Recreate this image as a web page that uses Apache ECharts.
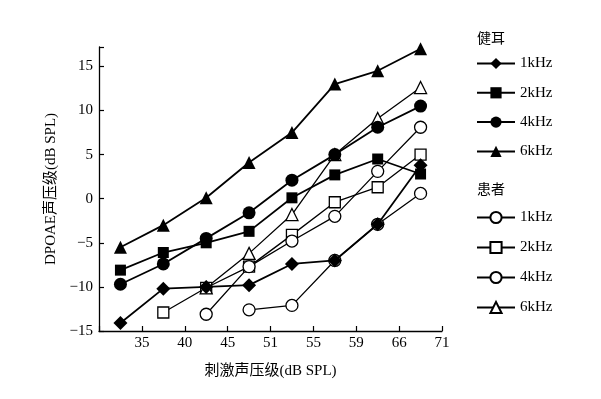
<!DOCTYPE html>
<html>
<head>
<meta charset="utf-8">
<script src="https://cdn.jsdelivr.net/npm/echarts@6/dist/echarts.min.js"></script>
<style>
  html, body { margin: 0; padding: 0; background: #fff; }
  #chart { width: 601px; height: 399px; }
</style>
</head>
<body>
<div id="chart"></div>
<script>
// x axis: evenly spaced slots, labels sit on the slot edges, points in the middle of each slot
var tickLabels = ['', '35', '40', '45', '51', '55', '59', '66', '71']

// 健耳 (healthy ear)
var normal1k = [-14.1, -10.2, -10.0, -9.8, -7.4, -7.0, -2.9, 3.8]
var normal2k = [-8.1, -6.1, -5.0, -3.7, 0.1, 2.7, 4.5, 2.8]
var normal4k = [-9.7, -7.4, -4.5, -1.6, 2.1, 5.0, 8.1, 10.5]
var normal6k = [-5.5, -3.0, 0.1, 4.1, 7.5, 13.0, 14.5, 17.0]

// 患者 (patients)
var patient1k = [null, null, null, -12.6, -12.1, -7.0, -2.9, 0.6]
var patient2k = [null, -12.9, -10.1, -7.7, -4.1, -0.4, 1.3, 5.0]
var patient4k = [null, null, -13.1, -7.7, -4.8, -2.0, 3.1, 8.1]
var patient6k = [null, null, -10.1, -6.2, -1.8, 5.0, 9.1, 12.6]

var serif = '"Liberation Serif", "Times New Roman", "Noto Sans CJK SC", serif'

function toPoints(values) {
  var pts = []
  for (var i = 0; i < values.length; i++) {
    if (values[i] !== null) pts.push([i + 0.5, values[i]])
  }
  return pts
}

function makeSeries(name, values, symbol, size, filled) {
  return {
    name: name,
    type: 'line',
    data: toPoints(values),
    symbol: symbol,
    symbolSize: size,
    showAllSymbol: true,
    z: filled ? 3 : 2,
    lineStyle: { color: '#000', width: filled ? 1.8 : 1.3 },
    itemStyle: {
      color: filled ? '#000' : '#fff',
      borderColor: '#000',
      borderWidth: filled ? 0 : 1.3,
      opacity: 1
    },
    emphasis: { disabled: true },
    animation: false
  }
}

var series = [
  makeSeries('患者1kHz', patient1k, 'circle', 12, false),
  makeSeries('患者2kHz', patient2k, 'rect', 11, false),
  makeSeries('患者4kHz', patient4k, 'circle', 12, false),
  makeSeries('患者6kHz', patient6k, 'triangle', 12, false),
  makeSeries('健耳1kHz', normal1k, 'diamond', 14, true),
  makeSeries('健耳2kHz', normal2k, 'rect', 11, true),
  makeSeries('健耳4kHz', normal4k, 'circle', 13, true),
  makeSeries('健耳6kHz', normal6k, 'triangle', 13, true)
]

var legendBase = {
  orient: 'vertical',
  left: 471,
  itemWidth: 38,
  itemHeight: 14,
  selectedMode: false,
  formatter: function (name) { return name.slice(2) },
  textStyle: { color: '#000', fontSize: 15, fontFamily: serif, lineHeight: 14 }
}

var myChart = echarts.init(document.getElementById('chart'))
var option = {
  backgroundColor: '#fff',
  animation: false,
  grid: { left: 99, right: 159, top: 47, bottom: 68 },
  legend: [
    Object.assign({}, legendBase, { top: 51, itemGap: 14.3, data: ['健耳1kHz', '健耳2kHz', '健耳4kHz', '健耳6kHz'] }),
    Object.assign({}, legendBase, { top: 205, itemGap: 15, data: ['患者1kHz', '患者2kHz', '患者4kHz', '患者6kHz'] })
  ],
  graphic: [
    { type: 'text', left: 477, top: 31, style: { text: '健耳', fontSize: 14, fill: '#000', fontFamily: '"Noto Sans CJK SC"' } },
    { type: 'text', left: 477, top: 182, style: { text: '患者', fontSize: 14, fill: '#000', fontFamily: '"Noto Sans CJK SC"' } }
  ],
  xAxis: {
    type: 'value',
    min: 0,
    max: 8,
    interval: 1,
    name: '刺激声压级(dB SPL)',
    nameLocation: 'middle',
    nameGap: 33,
    nameTextStyle: { color: '#000', fontSize: 15, fontFamily: serif },
    axisLine: { show: true, onZero: false, lineStyle: { color: '#000', width: 1.3 } },
    axisTick: { show: true, inside: true, length: 5, lineStyle: { color: '#000', width: 1.2 } },
    axisLabel: {
      color: '#000', fontSize: 15, fontFamily: serif, margin: 5,
      formatter: function (v) { return tickLabels[v] || '' }
    },
    splitLine: { show: false }
  },
  yAxis: {
    type: 'value',
    min: -15,
    max: 17.2,
    interval: 5,
    name: 'DPOAE声压级(dB SPL)',
    nameLocation: 'middle',
    nameGap: 36,
    nameTextStyle: { color: '#000', fontSize: 15, fontFamily: serif },
    axisLine: { show: true, onZero: false, lineStyle: { color: '#000', width: 1.3 } },
    axisTick: { show: true, inside: true, length: 5, lineStyle: { color: '#000', width: 1.2 } },
    axisLabel: {
      color: '#000', fontSize: 15, fontFamily: serif, margin: 6,
      formatter: function (v) {
        if (v % 5 !== 0) return ''
        return String(v).replace('-', '\u2212')
      }
    },
    splitLine: { show: false }
  },
  series: series
}
myChart.setOption(option)
</script>
</body>
</html>
